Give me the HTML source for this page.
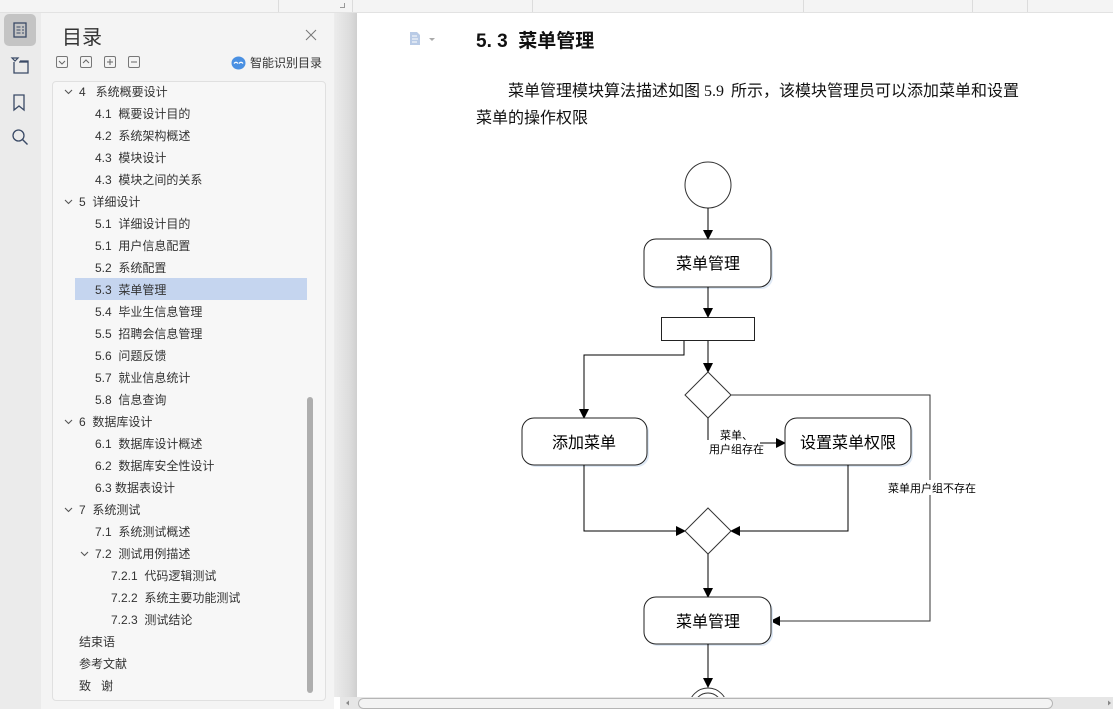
<!DOCTYPE html>
<html><head><meta charset="utf-8">
<style>
*{margin:0;padding:0;box-sizing:border-box}
html,body{width:1113px;height:709px;overflow:hidden;background:#fff;font-family:"Liberation Sans","Noto Sans CJK SC",sans-serif}
.abs{position:absolute}
#top{left:0;top:0;width:1113px;height:13px;background:#f4f4f4;border-bottom:1px solid #e2e2e2}
.vd{position:absolute;top:0;width:1px;height:12px;background:#dcdcdc}
#iconbar{left:0;top:13px;width:41px;height:696px;background:#ebebeb}
#side{left:41px;top:13px;width:293px;height:696px;background:#f4f4f4}
#toc{left:52px;top:81px;width:274px;height:620px;background:#f7f7f7;border:1px solid #e0e0e0;border-radius:4px}
.it{position:absolute;font-size:12px;color:#333;line-height:22px;height:22px;white-space:nowrap}
#hl{left:75px;top:278px;width:232px;height:22px;background:#c5d5ef}
#sb{left:307px;top:397px;width:6px;height:296px;background:#aeaeae;border-radius:3px}
#shadow{left:334px;top:13px;width:23px;height:684px;background:linear-gradient(to right,#ececec,#dcdcdc 70%,#cfcfcf)}
#hsb{left:340px;top:697px;width:773px;height:12px;background:#e6e6e6}
#thumb{left:358px;top:698px;width:695px;height:11px;background:#f3f3f3;border:1px solid #b5b5b5;border-radius:6px}
.p{position:absolute;font-size:16px;color:#111;white-space:nowrap;line-height:20px}
.ctl{position:absolute;top:56px;width:12px;height:12px;border:1px solid #777;border-radius:2px}
</style></head><body>
<div id="top" class="abs">
 <div class="vd" style="left:278px"></div>
 <div class="vd" style="left:352px"></div>
 <div class="vd" style="left:532px"></div>
 <div class="vd" style="left:803px"></div>
 <div class="vd" style="left:972px"></div>
 <div class="vd" style="left:1027px"></div>
 <div class="abs" style="left:340px;top:3px;width:5px;height:5px;border-right:1px solid #999;border-bottom:1px solid #999"></div>
</div>
<div id="iconbar" class="abs"></div>
<svg class="abs" style="left:0;top:0" width="41" height="160">
 <rect x="4" y="14" width="32" height="32" rx="5" fill="#c4c4c4"/>
 <rect x="14" y="23" width="12" height="14" fill="none" stroke="#3a4a66" stroke-width="1.3"/>
 <path d="M16.5 27h4M16.5 30h4M16.5 33h4M22 27h2M22 30h2M22 33h2" stroke="#3a4a66" stroke-width="1"/>
 <path d="M12 58l3 3 3-3z" fill="none" stroke="#3a4a66" stroke-width="1.2"/>
 <path d="M14 62v11h14v-12h-8" fill="none" stroke="#3a4a66" stroke-width="1.3"/>
 <path d="M19 62h9" stroke="#3a4a66" stroke-width="1.3"/>
 <path d="M14 95v15l5-4 5 4v-15z" fill="none" stroke="#3a4a66" stroke-width="1.3"/>
 <circle cx="18.5" cy="135.5" r="5.5" fill="none" stroke="#3a4a66" stroke-width="1.3"/>
 <path d="M22.5 139.5l5 5" stroke="#3a4a66" stroke-width="1.4"/>
</svg>
<div id="side" class="abs"></div>
<div class="abs" style="left:62px;top:25px;font-size:20px;color:#333;line-height:26px">目录</div>
<svg class="abs" style="left:305px;top:29px" width="12" height="12"><path d="M1 1l10 10M11 1L1 11" stroke="#777" stroke-width="1"/></svg>
<div class="ctl" style="left:56px"></div>
<div class="ctl" style="left:80px"></div>
<div class="ctl" style="left:104px"></div>
<div class="ctl" style="left:128px"></div>
<svg class="abs" style="left:56px;top:56px" width="90" height="12">
 <path d="M3 5l3 3 3-3" fill="none" stroke="#666" stroke-width="1"/>
 <path d="M27 7l3-3 3 3" fill="none" stroke="#666" stroke-width="1"/>
 <path d="M51 6h6M54 3v6" stroke="#666" stroke-width="1"/>
 <path d="M75 6h6" stroke="#666" stroke-width="1"/>
</svg>
<svg class="abs" style="left:231px;top:56px" width="15" height="14"><ellipse cx="7.5" cy="7" rx="7" ry="6.5" fill="#4a90e2"/><path d="M3 7.5q2-2.5 4 0M8 7.5q2-2.5 4 0" stroke="#fff" stroke-width="1.3" fill="none"/></svg>
<div class="abs" style="left:250px;top:55px;font-size:12px;color:#333;line-height:16px">智能识别目录</div>
<div id="toc" class="abs"></div>
<div id="hl" class="abs"></div>
<div id="sb" class="abs"></div>

<svg class="abs" style="left:0;top:0" width="100" height="709">
 <g fill="none" stroke="#555" stroke-width="1.1">
  <path d="M65 90l3.5 3.5 3.5-3.5"/>
  <path d="M65 200l3.5 3.5 3.5-3.5"/>
  <path d="M65 420l3.5 3.5 3.5-3.5"/>
  <path d="M65 508l3.5 3.5 3.5-3.5"/>
  <path d="M81 552l3.5 3.5 3.5-3.5"/>
 </g>
</svg>
<div class="it" style="left:79px;top:81px">4&nbsp;&nbsp;&nbsp;系统概要设计</div>
<div class="it" style="left:95px;top:103px">4.1&nbsp;&nbsp;概要设计目的</div>
<div class="it" style="left:95px;top:125px">4.2&nbsp;&nbsp;系统架构概述</div>
<div class="it" style="left:95px;top:147px">4.3&nbsp;&nbsp;模块设计</div>
<div class="it" style="left:95px;top:169px">4.3&nbsp;&nbsp;模块之间的关系</div>
<div class="it" style="left:79px;top:191px">5&nbsp;&nbsp;详细设计</div>
<div class="it" style="left:95px;top:213px">5.1&nbsp;&nbsp;详细设计目的</div>
<div class="it" style="left:95px;top:235px">5.1&nbsp;&nbsp;用户信息配置</div>
<div class="it" style="left:95px;top:257px">5.2&nbsp;&nbsp;系统配置</div>
<div class="it" style="left:95px;top:279px">5.3&nbsp;&nbsp;菜单管理</div>
<div class="it" style="left:95px;top:301px">5.4&nbsp;&nbsp;毕业生信息管理</div>
<div class="it" style="left:95px;top:323px">5.5&nbsp;&nbsp;招聘会信息管理</div>
<div class="it" style="left:95px;top:345px">5.6&nbsp;&nbsp;问题反馈</div>
<div class="it" style="left:95px;top:367px">5.7&nbsp;&nbsp;就业信息统计</div>
<div class="it" style="left:95px;top:389px">5.8&nbsp;&nbsp;信息查询</div>
<div class="it" style="left:79px;top:411px">6&nbsp;&nbsp;数据库设计</div>
<div class="it" style="left:95px;top:433px">6.1&nbsp;&nbsp;数据库设计概述</div>
<div class="it" style="left:95px;top:455px">6.2&nbsp;&nbsp;数据库安全性设计</div>
<div class="it" style="left:95px;top:477px">6.3 数据表设计</div>
<div class="it" style="left:79px;top:499px">7&nbsp;&nbsp;系统测试</div>
<div class="it" style="left:95px;top:521px">7.1&nbsp;&nbsp;系统测试概述</div>
<div class="it" style="left:95px;top:543px">7.2&nbsp;&nbsp;测试用例描述</div>
<div class="it" style="left:111px;top:565px">7.2.1&nbsp;&nbsp;代码逻辑测试</div>
<div class="it" style="left:111px;top:587px">7.2.2&nbsp;&nbsp;系统主要功能测试</div>
<div class="it" style="left:111px;top:609px">7.2.3&nbsp;&nbsp;测试结论</div>
<div class="it" style="left:79px;top:631px">结束语</div>
<div class="it" style="left:79px;top:653px">参考文献</div>
<div class="it" style="left:79px;top:675px">致&nbsp;&nbsp;&nbsp;谢</div>

<div id="shadow" class="abs"></div>
<div id="hsb" class="abs"></div>
<div id="thumb" class="abs"></div>
<svg class="abs" style="left:340px;top:697px" width="773" height="12">
 <path d="M9 3.5v5l-3-2.5z" fill="#888"/>
 <path d="M768 3.5v5l3-2.5z" fill="#888"/>
</svg>

<svg class="abs" style="left:409px;top:31px" width="30" height="16">
 <path d="M1 1h7l3 3v10H1z" fill="#b9cbe6"/>
 <path d="M3 5h5M3 8h6M3 11h5" stroke="#fff" stroke-width="1"/>
 <path d="M20 7h6l-3 3z" fill="#aaa"/>
</svg>
<div class="abs" style="left:476px;top:30px;font-size:19px;font-weight:bold;color:#111;line-height:24px;white-space:nowrap">5. 3&nbsp;&nbsp;菜单管理</div>
<div class="p" style="left:508px;top:82px">菜单管理模块算法描述如图</div>
<div class="p" style="left:704px;top:82px;font-family:'Liberation Serif',serif">5.9</div>
<div class="p" style="left:731px;top:82px">所示，该模块管理员可以添加菜单和设置</div>
<div class="p" style="left:476px;top:109px">菜单的操作权限</div>

<svg class="abs" style="left:0;top:0" width="1113" height="697">
 <defs>
  <marker id="ar" markerWidth="10" markerHeight="10" refX="9" refY="5" orient="auto" markerUnits="userSpaceOnUse">
   <path d="M0 0L10 5L0 10z" fill="#000"/>
  </marker>
 </defs>
 <g fill="none" stroke="#000" stroke-width="1">
  <circle cx="708" cy="185" r="23" fill="#fff" stroke="#333"/>
  <line x1="708" y1="208" x2="708" y2="239" marker-end="url(#ar)"/>
  <rect x="646" y="241" width="127" height="48" rx="12" fill="#dfe9f5" stroke="none"/>
  <rect x="644" y="239" width="127" height="48" rx="12" fill="#fff" stroke="#222"/>
  <line x1="708" y1="287" x2="708" y2="317" marker-end="url(#ar)"/>
  <rect x="661.5" y="317.5" width="93" height="23" fill="#fff" stroke="#222"/>
  <polyline points="684,341 684,355 584,355 584,418" marker-end="url(#ar)"/>
  <line x1="708" y1="341" x2="708" y2="372" marker-end="url(#ar)"/>
  <polygon points="708,372 731,395 708,418 685,395" fill="#fff" stroke="#333"/>
  <polyline points="731,395 930,395 930,621 771,621" marker-end="url(#ar)" stroke="#333"/>
  <line x1="708" y1="418" x2="708" y2="440"/>
  <line x1="760" y1="443" x2="785" y2="443" marker-end="url(#ar)"/>
  <rect x="524" y="420" width="125" height="47" rx="12" fill="#dfe9f5" stroke="none"/>
  <rect x="522" y="418" width="125" height="47" rx="12" fill="#fff" stroke="#222"/>
  <rect x="787" y="420" width="126" height="47" rx="12" fill="#dfe9f5" stroke="none"/>
  <rect x="785" y="418" width="126" height="47" rx="12" fill="#fff" stroke="#222"/>
  <polyline points="584,465 584,531 685,531" marker-end="url(#ar)"/>
  <polyline points="848,465 848,531 731,531" marker-end="url(#ar)"/>
  <polygon points="708,508 731,531 708,554 685,531" fill="#fff" stroke="#333"/>
  <line x1="708" y1="554" x2="708" y2="597" marker-end="url(#ar)"/>
  <rect x="646" y="599" width="127" height="47" rx="12" fill="#dfe9f5" stroke="none"/>
  <rect x="644" y="597" width="127" height="47" rx="12" fill="#fff" stroke="#222"/>
  <line x1="708" y1="644" x2="708" y2="687" marker-end="url(#ar)"/>
  <circle cx="708" cy="707" r="19" fill="#fff" stroke="#333"/>
  <circle cx="708" cy="707" r="14" fill="#fff" stroke="#333"/>
 </g>
 <rect x="887" y="480" width="88" height="15" fill="#fff"/>
 <g font-family="Liberation Sans, Noto Sans CJK SC, sans-serif" fill="#000">
  <text x="708" y="269" font-size="16" text-anchor="middle">菜单管理</text>
  <text x="584" y="448" font-size="16" text-anchor="middle">添加菜单</text>
  <text x="848" y="448" font-size="16" text-anchor="middle">设置菜单权限</text>
  <text x="708" y="627" font-size="16" text-anchor="middle">菜单管理</text>
  <text x="720" y="439" font-size="11">菜单、</text>
  <text x="709" y="453" font-size="11">用户组存在</text>
  <text x="888" y="492" font-size="11">菜单用户组不存在</text>
 </g>
</svg>
</body></html>
